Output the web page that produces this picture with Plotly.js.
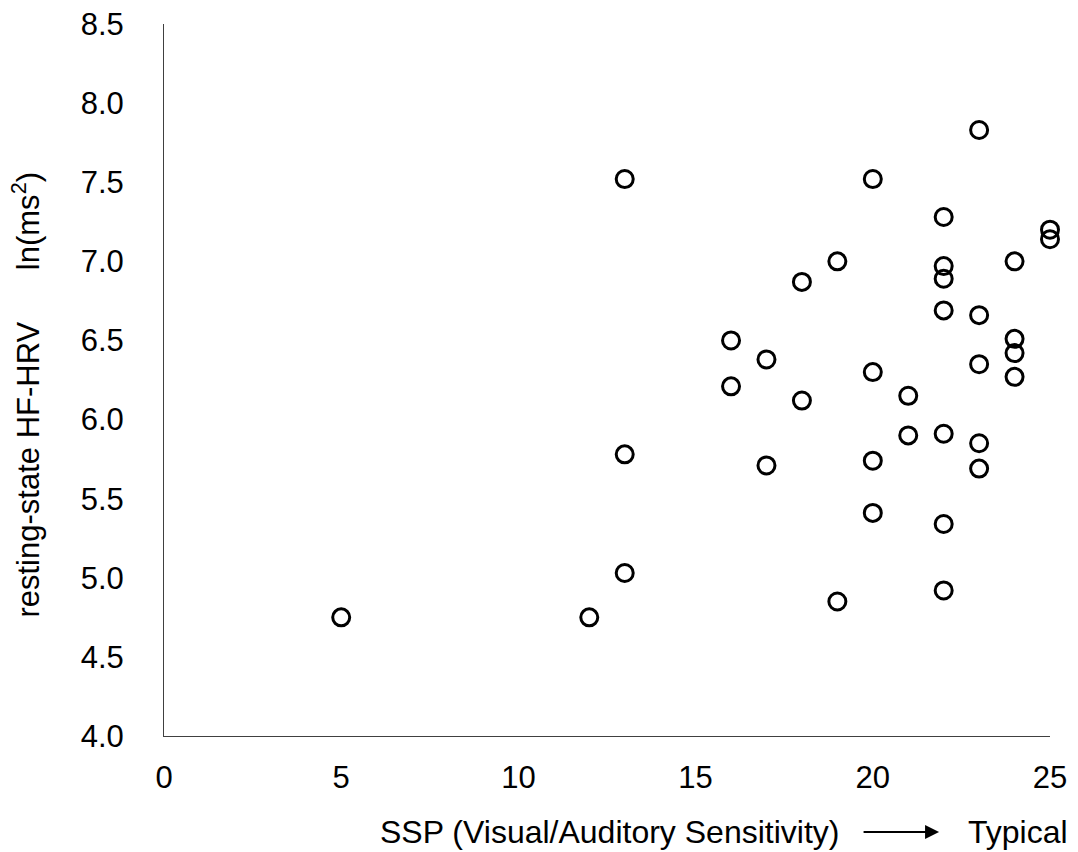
<!DOCTYPE html>
<html>
<head>
<meta charset="utf-8">
<script src="https://cdn.plot.ly/plotly-3.0.1.min.js"></script>
<style>
  html, body { margin: 0; padding: 0; background: #ffffff; }
  #chart { width: 1078px; height: 852px; }
</style>
</head>
<body>
<div id="chart"></div>
<script>
// SSP (Visual/Auditory Sensitivity) scores
const sspScore = [
  13, 20, 22, 25, 25, 19, 24, 22, 22, 18,
  22, 23, 16, 24, 24, 17, 23, 20, 24, 16,
  21, 18, 21, 22, 23, 13, 20, 17, 23, 20,
  22, 13, 22, 19, 12, 5, 23
];
// resting-state HF-HRV, ln(ms^2)
const hfHrv = [
  7.52, 7.52, 7.28, 7.20, 7.14, 7.00, 7.00, 6.97, 6.89, 6.87,
  6.69, 6.66, 6.50, 6.51, 6.42, 6.38, 6.35, 6.30, 6.27, 6.21,
  6.15, 6.12, 5.90, 5.91, 5.85, 5.78, 5.74, 5.71, 5.69, 5.41,
  5.34, 5.03, 4.92, 4.85, 4.75, 4.75, 7.83
];

const xTickVals = [0, 5, 10, 15, 20, 25];
const xTickText = ['0', '5', '10', '15', '20', '25'];
const yTickVals = [4.0, 4.5, 5.0, 5.5, 6.0, 6.5, 7.0, 7.5, 8.0, 8.5];
const yTickText = ['4.0', '4.5', '5.0', '5.5', '6.0', '6.5', '7.0', '7.5', '8.0', '8.5'];

const FONT = 'Liberation Sans, Arial, sans-serif';
const NB = '\u00A0';

const trace = {
  x: sspScore,
  y: hfHrv,
  type: 'scatter',
  mode: 'markers',
  cliponaxis: false,
  marker: {
    symbol: 'circle-open',
    size: 17,
    color: '#000000',
    line: { width: 3, color: '#000000' }
  },
  hoverinfo: 'x+y',
  showlegend: false
};

const layout = {
  width: 1078,
  height: 852,
  margin: { l: 163.5, r: 28, t: 24, b: 116, pad: 0 },
  paper_bgcolor: '#ffffff',
  plot_bgcolor: '#ffffff',
  font: { family: FONT, color: '#000000' },
  xaxis: {
    range: [0, 25],
    tickvals: xTickVals,
    ticktext: xTickText,
    showgrid: false,
    zeroline: false,
    showline: true,
    linecolor: '#404040',
    linewidth: 1,
    ticks: '',
    ticklabelstandoff: 14,
    tickfont: { size: 31, family: FONT, color: '#000000' },
    fixedrange: true
  },
  yaxis: {
    range: [4.0, 8.5],
    tickvals: yTickVals,
    ticktext: yTickText,
    showgrid: false,
    zeroline: false,
    showline: true,
    linecolor: '#404040',
    linewidth: 1,
    ticks: '',
    ticklabelstandoff: 33,
    tickfont: { size: 31, family: FONT, color: '#000000' },
    fixedrange: true
  },
  annotations: [
    {
      xref: 'paper', yref: 'paper',
      x: -0.1562, y: 0.479,
      xanchor: 'center', yanchor: 'middle',
      textangle: -90,
      showarrow: false,
      text: 'resting-state HF-HRV' + NB + NB + NB + NB + NB + NB + 'ln(ms<sup>2</sup>)',
      font: { size: 31, family: FONT, color: '#000000' }
    },
    {
      xref: 'paper', yref: 'paper',
      x: 0.242, y: -0.1348,
      xanchor: 'left', yanchor: 'middle',
      showarrow: false,
      text: 'SSP (Visual/Auditory Sensitivity)',
      font: { size: 32, family: FONT, color: '#000000' }
    },
    {
      xref: 'paper', yref: 'paper',
      x: 0.8748, y: -0.1348,
      ax: -77, ay: 0,
      text: '',
      showarrow: true,
      arrowhead: 2,
      arrowwidth: 2,
      arrowsize: 1.4,
      arrowcolor: '#000000'
    },
    {
      xref: 'paper', yref: 'paper',
      x: 1.0226, y: -0.1348,
      xanchor: 'right', yanchor: 'middle',
      showarrow: false,
      text: 'Typical',
      font: { size: 32, family: FONT, color: '#000000' }
    }
  ]
};

Plotly.newPlot('chart', [trace], layout, { displayModeBar: false, staticPlot: true });
</script>
</body>
</html>
